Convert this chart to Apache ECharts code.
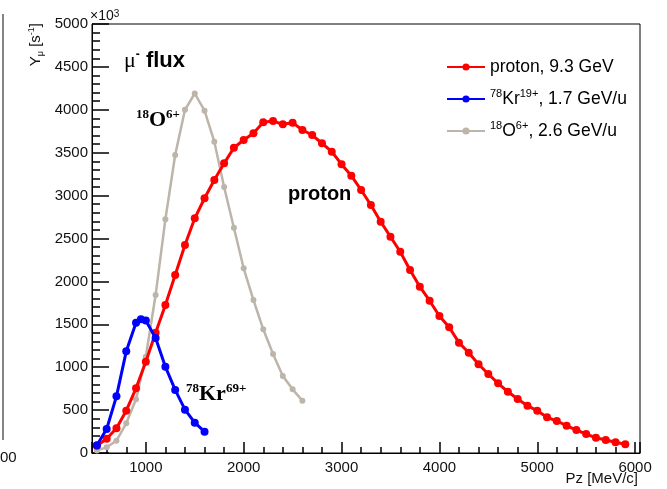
<!DOCTYPE html>
<html><head><meta charset="utf-8">
<script src="https://cdn.jsdelivr.net/npm/echarts@6/dist/echarts.min.js"></script>
<style>html,body{margin:0;padding:0;background:#fff}#c{width:667px;height:489px}</style>
</head><body><div id="c"></div>
<script>
// ---- data (Pz in MeV/c, Y in units of 10^3 s^-1) ----
const protonX = [500,600,700,800,900,1000,1100,1200,1300,1400,1500,1600,1700,1800,1900,2000,2100,2200,2300,2400,2500,2600,2700,2800,2900,3000,3100,3200,3300,3400,3500,3600,3700,3800,3900,4000,4100,4200,4300,4400,4500,4600,4700,4800,4900,5000,5100,5200,5300,5400,5500,5600,5700,5800,5900];
const protonY = [85,165,288,493,754,1064,1402,1725,2075,2424,2735,2969,3182,3376,3558,3648,3726,3854,3869,3831,3850,3765,3706,3610,3512,3365,3232,3065,2890,2696,2521,2346,2133,1938,1775,1597,1465,1286,1169,1034,921,812,714,629,551,493,416,373,318,268,221,178,152,125,101];
const krX = [500,600,700,800,900,950,1000,1100,1200,1300,1400,1500,1600];
const krY = [90,280,660,1185,1519,1560,1545,1340,1005,735,505,353,248];
const oX = [500,600,700,800,900,1000,1100,1200,1300,1400,1500,1600,1700,1800,1900,2000,2100,2200,2300,2400,2500,2600];
const oY = [30,66,143,346,626,1122,1841,2724,3473,4000,4190,3990,3628,3100,2626,2153,1783,1442,1154,897,742,610];
const seriesNames = ['proton, 9.3 GeV', '78Kr19+, 1.7 GeV/u', '18O6+, 2.6 GeV/u'];
const legendLabels = ['proton, 9.3 GeV', '{sup|78}Kr{sup|19+}, 1.7 GeV/u', '{sup|18}O{sup|6+}, 2.6 GeV/u'];
const xTickLabels = [1000,2000,3000,4000,5000,6000];
const yTickLabels = [0,500,1000,1500,2000,2500,3000,3500,4000,4500,5000];

const pair = (xs, ys) => xs.map((x, i) => [x, ys[i]]);
const SANS = 'Liberation Sans, Arial, sans-serif';
const SERIF = 'Liberation Serif, Times New Roman, serif';
const tickStyle = {color: '#000', width: 1.5};

const chart = echarts.init(document.getElementById('c'), null, {renderer: 'canvas'});
chart.setOption({
  animation: false,
  backgroundColor: '#fff',
  grid: {left: 92, top: 24, right: 27, bottom: 36, show: true, borderColor: '#000', borderWidth: 1, backgroundColor: 'transparent'},
  xAxis: {
    type: 'value', min: 450, max: 6050,
    axisLine: {show: true, onZero: false, lineStyle: {color: '#000', width: 1}},
    axisTick: {show: true, inside: true, length: 11, lineStyle: tickStyle},
    minorTick: {show: true, splitNumber: 5, length: 6, lineStyle: tickStyle},
    splitLine: {show: false},
    axisLabel: {fontSize: 15, fontFamily: SANS, color: '#111', margin: 7,
      formatter: v => xTickLabels.includes(v) ? String(v) : ''}
  },
  yAxis: {
    type: 'value', min: 0, max: 5000, interval: 500,
    axisLine: {show: true, onZero: false, lineStyle: {color: '#000', width: 1}},
    axisTick: {show: true, inside: true, length: 17, lineStyle: tickStyle},
    minorTick: {show: true, splitNumber: 5, length: 8, lineStyle: tickStyle},
    splitLine: {show: false},
    axisLabel: {fontSize: 15, fontFamily: SANS, color: '#111', margin: 4,
      formatter: v => yTickLabels.includes(v) ? String(v) : ''}
  },
  legend: {
    orient: 'vertical', left: 441, top: 51, itemWidth: 38, itemHeight: 9, itemGap: 10,
    data: seriesNames,
    formatter: name => legendLabels[seriesNames.indexOf(name)],
    textStyle: {fontSize: 17.5, fontFamily: SANS, color: '#000', lineHeight: 22,
      rich: {sup: {fontSize: 11, fontFamily: SANS, color: '#000', verticalAlign: 'top', lineHeight: 13}}}
  },
  series: [
    {name: seriesNames[0], type: 'line', data: pair(protonX, protonY), symbol: 'circle', symbolSize: 8,
     lineStyle: {color: '#ff0000', width: 3}, itemStyle: {color: '#ff0000'}, z: 3},
    {name: seriesNames[1], type: 'line', data: pair(krX, krY), symbol: 'circle', symbolSize: 8,
     lineStyle: {color: '#0000ff', width: 3}, itemStyle: {color: '#0000ff'}, z: 4},
    {name: seriesNames[2], type: 'line', data: pair(oX, oY), symbol: 'circle', symbolSize: 6,
     lineStyle: {color: '#bdb4aa', width: 2.5}, itemStyle: {color: '#bdb4aa'}, z: 2}
  ],
  graphic: [
    {type: 'text', x: 90, y: 16, style: {text: '×10{sup|3}', fontSize: 14, fontFamily: SANS, fill: '#111',
      align: 'left', verticalAlign: 'middle', textAlign: 'left', textVerticalAlign: 'middle',
      rich: {sup: {fontSize: 10, fontFamily: SANS, verticalAlign: 'top', lineHeight: 10, fill: '#111'}}}},
    {type: 'text', x: 36, y: 23, rotation: Math.PI / 2, style: {text: 'Y{sub|μ} [s{sup|-1}]', fontSize: 15, fontFamily: SANS, fill: '#111',
      align: 'right', verticalAlign: 'middle', textAlign: 'right', textVerticalAlign: 'middle', lineHeight: 18,
      rich: {sub: {fontSize: 9, fontFamily: SANS, verticalAlign: 'bottom', lineHeight: 10, fill: '#111'},
             sup: {fontSize: 9, fontFamily: SANS, verticalAlign: 'top', lineHeight: 10, fill: '#111'}}}},
    {type: 'text', x: 638, y: 479, style: {text: 'Pz [MeV/c]', fontSize: 15, fontFamily: SANS, fill: '#111',
      align: 'right', verticalAlign: 'middle', textAlign: 'right', textVerticalAlign: 'middle'}},
    {type: 'text', x: 124, y: 61, style: {text: '{mu|μ}{sup|-} flux', fontSize: 22, fontWeight: 'bold', fontFamily: SANS, fill: '#000',
      align: 'left', verticalAlign: 'middle', textAlign: 'left', textVerticalAlign: 'middle', lineHeight: 24,
      rich: {mu: {fontSize: 22, fontWeight: 'normal', fontFamily: SERIF, fill: '#000', lineHeight: 24},
             sup: {fontSize: 12, fontWeight: 'bold', fontFamily: SANS, verticalAlign: 'top', lineHeight: 12, fill: '#000'}}}},
    {type: 'text', x: 288, y: 194, style: {text: 'proton', fontSize: 20, fontWeight: 'bold', fontFamily: SANS, fill: '#000',
      align: 'left', verticalAlign: 'middle', textAlign: 'left', textVerticalAlign: 'middle'}},
    {type: 'text', x: 136, y: 120, style: {text: '{s|18}O{s|6+}', fontSize: 22, fontWeight: 'bold', fontFamily: SERIF, fill: '#000',
      align: 'left', verticalAlign: 'middle', textAlign: 'left', textVerticalAlign: 'middle', lineHeight: 24,
      rich: {s: {fontSize: 13, fontWeight: 'bold', fontFamily: SERIF, verticalAlign: 'top', lineHeight: 14, fill: '#000'}}}},
    {type: 'text', x: 186, y: 394, style: {text: '{s|78}Kr{s|69+}', fontSize: 22, fontWeight: 'bold', fontFamily: SERIF, fill: '#000',
      align: 'left', verticalAlign: 'middle', textAlign: 'left', textVerticalAlign: 'middle', lineHeight: 24,
      rich: {s: {fontSize: 13, fontWeight: 'bold', fontFamily: SERIF, verticalAlign: 'top', lineHeight: 14, fill: '#000'}}}},
    {type: 'line', shape: {x1: 3, y1: 14, x2: 3, y2: 440}, style: {stroke: '#333', lineWidth: 1.2}},
    {type: 'text', x: 0, y: 458, style: {text: '00', fontSize: 15, fontFamily: SANS, fill: '#111',
      align: 'left', verticalAlign: 'middle', textAlign: 'left', textVerticalAlign: 'middle'}}
  ]
});
</script></body></html>
